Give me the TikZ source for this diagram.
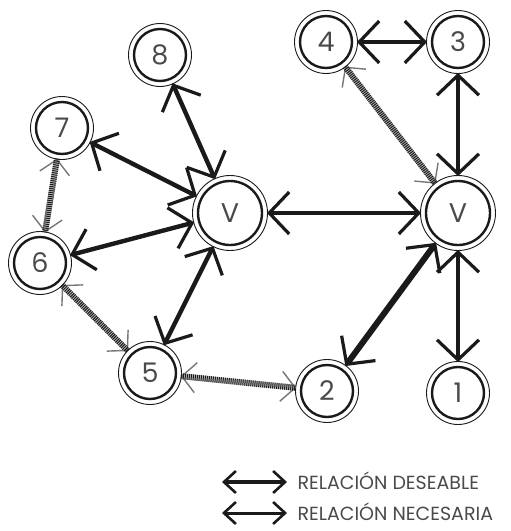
\documentclass[tikz,border=0pt]{standalone}
\usepackage{fontspec}
\setmainfont{Poppins}
\usetikzlibrary{positioning,arrows.meta}
\definecolor{tinta}{HTML}{1A1A1A}
\definecolor{trama}{HTML}{BDBDBD}
\definecolor{letra}{HTML}{4A4A4A}

\begin{document}
\begin{tikzpicture}[x=1pt,y=-1pt,
    nodo/.style={circle,draw=tinta,line width=2.4pt,minimum size=52pt,inner sep=0pt,
                 outer sep=5pt,font=\fontsize{27}{27}\selectfont,text=letra},
    grande/.style={nodo,minimum size=64pt},
    necesaria/.style={draw=tinta,line width=4.4pt,{Straight Barb[length=20pt,width=42pt,line width=3.2pt]}-{Straight Barb[length=20pt,width=42pt,line width=3.2pt]}},
    deseable/.style={draw=trama,line width=6pt,
                     {Straight Barb[length=14pt,width=30pt,line width=1.4pt,color=tinta!60]}-{Straight Barb[length=14pt,width=30pt,line width=1.4pt,color=tinta!60]},
                     postaction={draw=tinta,line width=6pt,arrows=-,dash pattern=on 1pt off 1pt}},
    muestra/.style={draw=tinta,line width=3.6pt,{Straight Barb[length=12pt,width=22pt,line width=2.6pt]}-{Straight Barb[length=12pt,width=22pt,line width=2.6pt]}},
    leyenda/.style={font=\fontsize{19}{19}\selectfont,text=letra,anchor=west}]
  \useasboundingbox (0,0) rectangle (511,531);
  % nodos
  \node[grande] (vi) at (230,213) {V};
  \node[grande] (vd) at (458,213) {V};
  \node[nodo] (n8) at (160,55) {8};
  \node[nodo] (n7) at (62,128) {7};
  \node[nodo] (n6) at (40,263) {6};
  \node[nodo] (n5) at (150,373) {5};
  \node[nodo] (n2) at (327,391) {2};
  \node[nodo] (n1) at (458,393) {1};
  \node[nodo] (n4) at (326,42) {4};
  \node[nodo] (n3) at (458,42) {3};
  % anillo exterior
  \foreach \n in {n8,n7,n6,n5,n2,n1,n4,n3} \draw[tinta,line width=.9pt] (\n.center) circle[radius=31.5];
  \foreach \n in {vi,vd} \draw[tinta,line width=.9pt] (\n.center) circle[radius=37.5];
  % relaciones necesarias
  \foreach \a/\b in {n8/vi,n7/vi,n6/vi,n5/vi,vi/vd,n3/vd,vd/n1}
    \draw[necesaria] (\a) -- (\b);
  \draw[necesaria,line width=6pt] (vd) -- (n2);
  \draw[necesaria,line width=3.4pt] (n4) -- (n3);
  % relaciones deseables
  \foreach \a/\b in {n7/n6,n6/n5,n5/n2,n4/vd}
    \draw[deseable] (\a) -- (\b);
  % leyenda
  \coordinate (d1) at (222,482);
  \coordinate (d2) at (287,482);
  \coordinate (r1) at (222,513);
  \coordinate (r2) at (287,513);
  \draw[muestra] (d1) -- (d2);
  \draw[muestra,line width=3pt] (r1) -- (r2);
  \node[leyenda] (tdes) at (294,481) {RELACIÓN DESEABLE};
  \node[leyenda] (tnec) at (294,512) {RELACIÓN NECESARIA};
\end{tikzpicture}
\end{document}
